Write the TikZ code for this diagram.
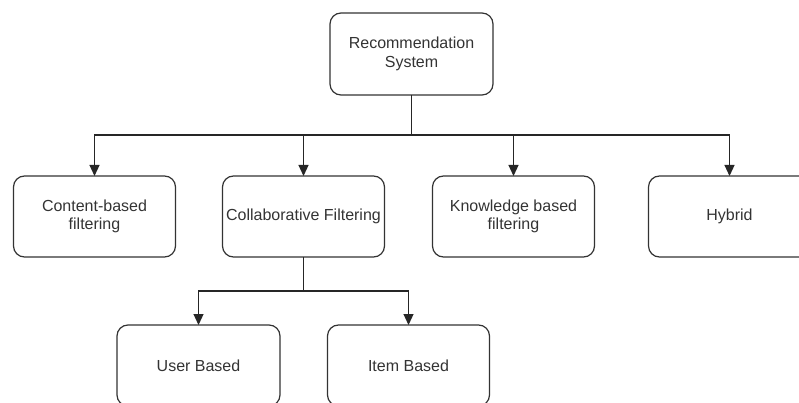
\documentclass[tikz,border=0pt]{standalone}
\usepackage{fontspec}
\setmainfont{Liberation Sans}
\usetikzlibrary{arrows.meta}
\definecolor{txt}{HTML}{333333}
\definecolor{edge}{HTML}{333333}
\begin{document}
\begin{tikzpicture}[x=1pt,y=-1pt,
  box/.style={draw=edge, line width=1.2pt, rounded corners=11pt, minimum width=162pt, minimum height=81pt,
    inner sep=0pt, outer sep=0pt, align=center, text=txt, font=\fontsize{16pt}{18.4pt}\selectfont},
  conn/.style={draw=black!85, line width=1.2pt},
  arr/.style={conn, -{Triangle[length=11pt,width=10pt]}}]
\useasboundingbox (0,0) rectangle (799,403);
\clip (0,0) rectangle (799,403);
\node[box, minimum width=163pt, minimum height=82pt] (top) at (411.5,54) {Recommendation\\System};
\node[box] (content) at (94.5,216.5) {Content-based\\filtering};
\node[box] (collab) at (303.5,216.5) {Collaborative Filtering};
\node[box] (know) at (513.5,216.5) {Knowledge based\\filtering};
\node[box] (hybrid) at (729.5,216.5) {Hybrid};
\node[box, minimum width=163pt] (user) at (198.5,365.5) {User Based};
\node[box] (item) at (408.5,365.5) {Item Based};
\coordinate (j1) at (411.5,135);
\coordinate (j2) at (303.5,291);
\draw[conn] (top.south) -- (j1);
\draw[arr] (j1) -| (content.north);
\draw[arr] (j1) -| (collab.north);
\draw[arr] (j1) -| (know.north);
\draw[arr] (j1) -| (hybrid.north);
\draw[conn] (collab.south) -- (j2);
\draw[arr] (j2) -| (user.north);
\draw[arr] (j2) -| (item.north);
\end{tikzpicture}
\end{document}
